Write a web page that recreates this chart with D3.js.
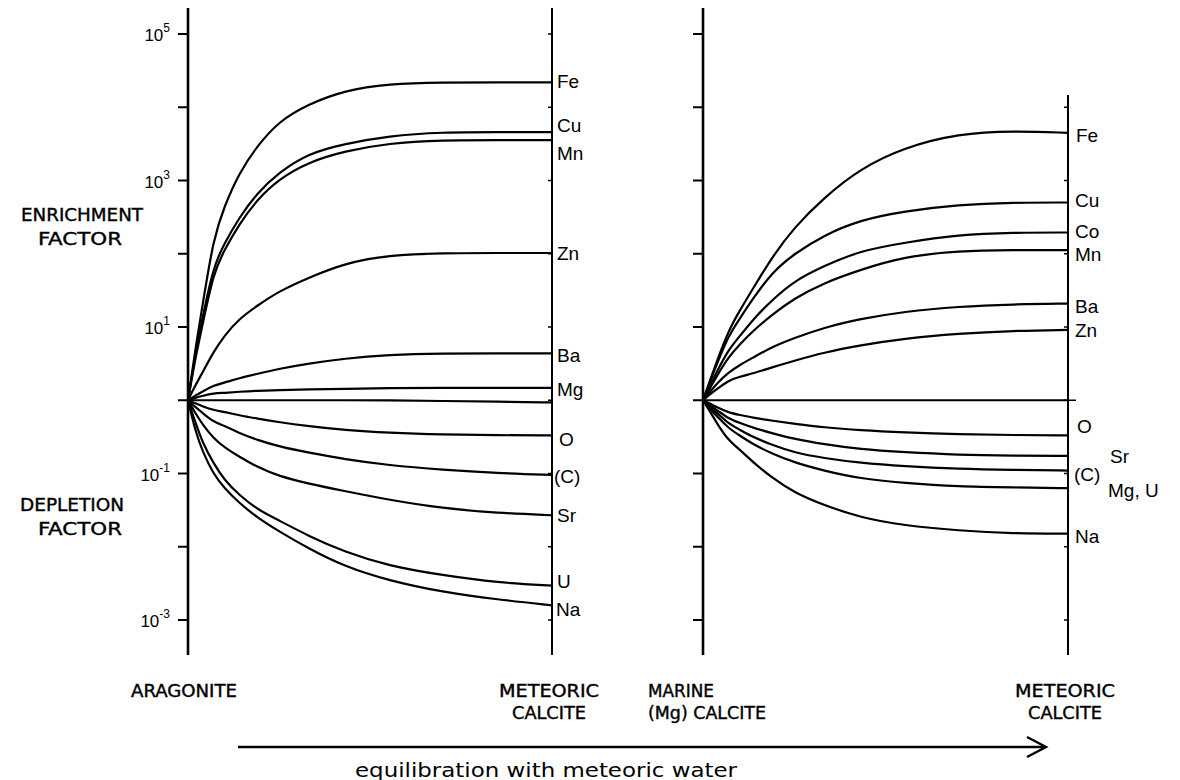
<!DOCTYPE html>
<html><head><meta charset="utf-8">
<script src="https://cdn.jsdelivr.net/npm/d3@7"></script>
<style>
body{margin:0;background:#fff}
svg{display:block}
text{font-family:"Liberation Sans Narrow","DejaVu Sans Condensed","Liberation Sans",sans-serif;fill:#000}
text.el, text.tk{font-family:"Liberation Sans","Arial",sans-serif}
text.cap{stroke:#000;stroke-width:0.35}
</style>
</head><body><svg id="c" width="1180" height="780"></svg>
<script>
// progress along "equilibration with meteoric water" (0 = start mineral, 1 = meteoric calcite)
const progress = [0,0.02,0.04,0.07,0.1,0.14,0.19,0.25,0.33,0.43,0.55,0.7,0.85,1];
// decade exponents of the factor axis
const decades = [-3,-2,-1,0,1,2,3,4,5];
const labelledDecades = [5,3,1,-1,-3];

// LEFT PANEL: aragonite -> meteoric calcite (log10 of enrichment/depletion factor)
const leftNames = ["Fe","Cu","Mn","Zn","Ba","Mg","","O","(C)","Sr","U","Na"];
const aFe = [0,0.69,1.30,2.21,2.65,3.10,3.47,3.81,4.04,4.23,4.32,4.34,4.34,4.34];
const aCu = [0,0.62,1.13,1.83,2.14,2.49,2.83,3.11,3.37,3.50,3.61,3.66,3.66,3.66];
const aMn = [0,0.57,1.03,1.74,2.05,2.40,2.74,3.02,3.25,3.40,3.51,3.55,3.55,3.55];
const aZn = [0,0.20,0.38,0.66,0.88,1.11,1.29,1.49,1.67,1.87,1.98,2.01,2.01,2.01];
const aBa = [0,0.064,0.12,0.20,0.24,0.30,0.36,0.43,0.50,0.57,0.62,0.64,0.64,0.64];
const aMg = [0,0.034,0.06,0.094,0.10,0.116,0.13,0.136,0.148,0.156,0.165,0.17,0.17,0.17];
const aOne = [0,0,0,0,0,0,0,0,0,0,0,-0.01,-0.02,-0.03];
const aO  = [0,-0.043,-0.082,-0.134,-0.158,-0.206,-0.25,-0.30,-0.353,-0.408,-0.444,-0.468,-0.478,-0.48];
const aC  = [0,-0.092,-0.173,-0.296,-0.347,-0.449,-0.541,-0.632,-0.714,-0.806,-0.887,-0.949,-0.995,-1.02];
const aSr = [0,-0.173,-0.33,-0.518,-0.644,-0.769,-0.911,-1.036,-1.138,-1.24,-1.358,-1.476,-1.539,-1.57];
const aU  = [0,-0.30,-0.58,-0.86,-1.09,-1.29,-1.49,-1.64,-1.85,-2.07,-2.26,-2.39,-2.49,-2.53];
const aNa = [0,-0.42,-0.70,-1.01,-1.20,-1.40,-1.60,-1.79,-2.02,-2.27,-2.46,-2.62,-2.72,-2.80];

// RIGHT PANEL: marine (Mg) calcite -> meteoric calcite
const rightNames = ["Fe","Cu","Co","Mn","Ba","Zn","","O","Sr","(C)","Mg, U","Na"];
const mFe = [0,0.28,0.56,0.95,1.22,1.55,1.96,2.36,2.76,3.16,3.45,3.64,3.68,3.65];
const mCu = [0,0.26,0.52,0.88,1.11,1.41,1.75,2.00,2.25,2.46,2.58,2.67,2.70,2.70];
const mCo = [0,0.21,0.41,0.69,0.87,1.12,1.37,1.63,1.83,2.04,2.15,2.26,2.29,2.29];
const mMn = [0,0.17,0.35,0.59,0.76,0.96,1.17,1.39,1.60,1.78,1.96,2.04,2.05,2.05];
const mBa = [0,0.12,0.24,0.38,0.48,0.59,0.73,0.85,0.99,1.11,1.21,1.28,1.31,1.32];
const mZn = [0,0.086,0.16,0.27,0.32,0.37,0.45,0.54,0.65,0.75,0.84,0.91,0.95,0.96];
const mOne = [0,0,0,0,0,0,0,0,0,0,0,0,0,0];
const mO  = [0,-0.048,-0.10,-0.168,-0.20,-0.24,-0.28,-0.32,-0.37,-0.41,-0.44,-0.466,-0.475,-0.48];
const mSr = [0,-0.076,-0.14,-0.25,-0.31,-0.38,-0.45,-0.53,-0.60,-0.67,-0.71,-0.745,-0.756,-0.76];
const mC  = [0,-0.096,-0.18,-0.32,-0.40,-0.51,-0.61,-0.715,-0.79,-0.855,-0.90,-0.936,-0.95,-0.96];
const mMgU= [0,-0.12,-0.23,-0.38,-0.48,-0.61,-0.73,-0.85,-0.96,-1.07,-1.13,-1.18,-1.19,-1.20];
const mNa = [0,-0.16,-0.33,-0.55,-0.67,-0.86,-1.06,-1.26,-1.43,-1.60,-1.71,-1.78,-1.82,-1.82];

const leftSeries = [aFe,aCu,aMn,aZn,aBa,aMg,aOne,aO,aC,aSr,aU,aNa];
const rightSeries = [mFe,mCu,mCo,mMn,mBa,mZn,mOne,mO,mSr,mC,mMgU,mNa];

// label placement (styling: pixel offsets from the end of each line)
const leftLabelDy = [1,-5,15,2,4,3,0,6,3,2,-3,6];
const leftLabelDx = [5,5,5,5,5,5,0,7,2,5,5,4];
const rightLabelDy = [4,0,0,6,4,2,0,-7,2,5,4,4];
const rightLabelDx = [8,7,7,7,7,7,0,9,42,6,40,7];

const svg = d3.select("#c");
const y = d3.scaleLog().domain([1e-3,1e5]).range([620,34]);
const panels = [
  {x: d3.scaleLinear().domain([0,1]).range([188,552]), series: leftSeries, names: leftNames, dy: leftLabelDy, dx: leftLabelDx, rightTop: 8, labelsLeft: true},
  {x: d3.scaleLinear().domain([0,1]).range([703,1068]), series: rightSeries, names: rightNames, dy: rightLabelDy, dx: rightLabelDx, rightTop: 95, labelsLeft: false}
];

panels.forEach(p => {
  const x0 = p.x(0), x1 = p.x(1);
  svg.append("line").attr("x1",x0).attr("x2",x0).attr("y1",8).attr("y2",655)
    .attr("stroke","#000").attr("stroke-width",2.6);
  svg.append("line").attr("x1",x1).attr("x2",x1).attr("y1",p.rightTop).attr("y2",655)
    .attr("stroke","#000").attr("stroke-width",2);
  decades.forEach(d => {
    const yy = y(Math.pow(10,d));
    svg.append("line").attr("x1",x0-10).attr("x2",x0).attr("y1",yy).attr("y2",yy)
      .attr("stroke","#000").attr("stroke-width",2);
    if (yy >= p.rightTop) svg.append("line").attr("x1",x1-4).attr("x2",x1 + (d===0 && !p.labelsLeft ? 8 : 0)).attr("y1",yy).attr("y2",yy)
      .attr("stroke","#000").attr("stroke-width",1.5);
  });
  if (p.labelsLeft) {
    labelledDecades.forEach(d => {
      const t = svg.append("text").attr("class","tk").attr("x",x0-18).attr("y",y(Math.pow(10,d))+7)
        .attr("text-anchor","end").attr("font-size",17);
      t.append("tspan").text("10");
      t.append("tspan").attr("dy",-9).attr("font-size",12).text(String(d));
    });
  }
  const line = d3.line().x((v,i) => p.x(progress[i])).y(v => y(Math.pow(10,v))).curve(d3.curveBasis);
  p.series.forEach((s,k) => {
    svg.append("path").attr("d", line(s)).attr("fill","none").attr("stroke","#000")
      .attr("stroke-width",2.2).attr("stroke-linejoin","round");
    const name = p.names[k];
    if (name) {
      svg.append("text").attr("class","el").attr("x", x1 + p.dx[k]).attr("y", y(Math.pow(10,s[s.length-1])) + p.dy[k])
        .attr("dominant-baseline","middle").attr("font-size",19).text(name);
    }
  });
});

// factor captions: [text, centre x, y, width]
const caps = [["ENRICHMENT",82,216,122],["FACTOR",80,240,84],["DEPLETION",72,506,104],["FACTOR",80,530,84]];
caps.forEach(c => svg.append("text").attr("class","cap").attr("x",c[1]).attr("y",c[2]).attr("text-anchor","middle")
  .attr("dominant-baseline","middle").attr("font-size",17)
  .attr("textLength",c[3]).attr("lengthAdjust","spacingAndGlyphs").text(c[0]));

// mineral captions: [line1, line2, x, anchor, width1, width2]
const minerals = [["ARAGONITE",null,184,"middle",106,0],["METEORIC","CALCITE",549,"middle",100,74],
                  ["MARINE","(Mg) CALCITE",648,"start",66,118],["METEORIC","CALCITE",1065,"middle",100,74]];
minerals.forEach(m => {
  svg.append("text").attr("class","cap").attr("x",m[2]).attr("y",692).attr("text-anchor",m[3]).attr("dominant-baseline","middle")
    .attr("font-size",17).attr("textLength",m[4]).attr("lengthAdjust","spacingAndGlyphs").text(m[0]);
  if (m[1]) svg.append("text").attr("class","cap").attr("x",m[2]).attr("y",714).attr("text-anchor",m[3])
    .attr("dominant-baseline","middle").attr("font-size",17)
    .attr("textLength",m[5]).attr("lengthAdjust","spacingAndGlyphs").text(m[1]);
});

// arrow
svg.append("line").attr("x1",238).attr("x2",1045).attr("y1",747).attr("y2",747).attr("stroke","#000").attr("stroke-width",2.6);
svg.append("path").attr("d","M1027,737 L1046,747 L1027,757").attr("fill","none").attr("stroke","#000").attr("stroke-width",2.4);
svg.append("text").attr("x",546).attr("y",771).attr("text-anchor","middle").attr("dominant-baseline","middle")
  .attr("font-size",19).attr("textLength",382).attr("lengthAdjust","spacingAndGlyphs")
  .text("equilibration with meteoric water");
</script>
</body></html>
